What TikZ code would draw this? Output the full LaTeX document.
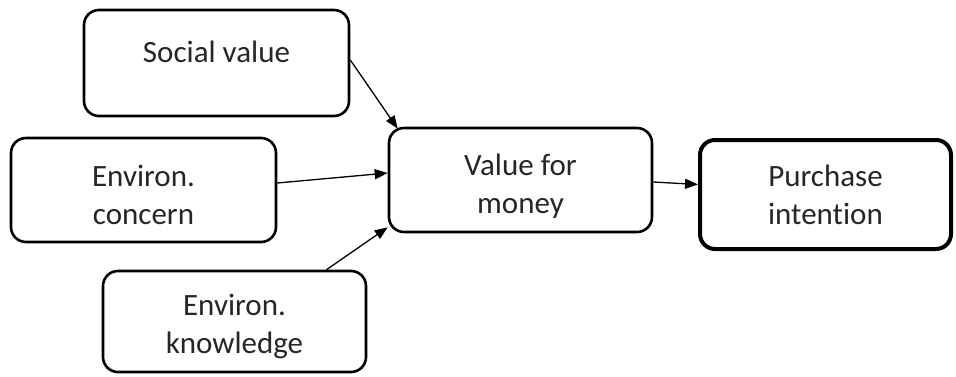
\documentclass[tikz,border=0pt]{standalone}
\usepackage{fontspec}
\setmainfont{Carlito}[Ligatures=NoCommon]
\usetikzlibrary{arrows.meta,calc}
\begin{document}
\begin{tikzpicture}[x=1pt,y=-1pt,
  box/.style={draw=black,line width=2.6pt,rounded corners=15pt,rectangle,inner sep=0pt},
  thickbox/.style={box,line width=4pt},
  arr/.style={draw=black,line width=1.3pt,-{Triangle[length=13pt,width=10pt]}},
  lbl/.style={text=black!85,font=\fontsize{31}{38}\selectfont,inner sep=0pt,align=center}]
\useasboundingbox (0,0) rectangle (956,376);
\node[box,minimum width=265pt,minimum height=106pt] (sv) at (216.5,63) {};
\node[box,minimum width=265pt,minimum height=104pt] (ec) at (143.5,190) {};
\node[box,minimum width=263pt,minimum height=101pt] (ek) at (234.5,321.5) {};
\node[box,minimum width=263pt,minimum height=104pt] (vm) at (520.5,180) {};
\node[thickbox,minimum width=251pt,minimum height=109pt] (pi) at (825.5,194.5) {};
\node[lbl] (svt) at ([yshift=11pt]sv.center) {Social value};
\node[lbl] (ect) at ([yshift=-5pt]ec.center) {Environ.\\concern};
\node[lbl] (ekt) at ([yshift=-5pt]ek.center) {Environ.\\knowledge};
\node[lbl] (vmt) at ([yshift=-6pt]vm.center) {Value for\\money};
\node[lbl] (pit) at ([yshift=0pt]pi.center) {Purchase\\intention};
\draw[arr] ([yshift=3pt]sv.east) -- ($(vm.north west)+(10,2)$);
\draw[arr] ([yshift=7pt]ec.east) -- ([yshift=7pt]vm.west);
\draw[arr] ([xshift=92pt]ek.north) -- ([yshift=6pt]vm.south west);
\draw[arr] ([yshift=-2pt]vm.east) -- ([yshift=10pt]pi.west);
\end{tikzpicture}
\end{document}
